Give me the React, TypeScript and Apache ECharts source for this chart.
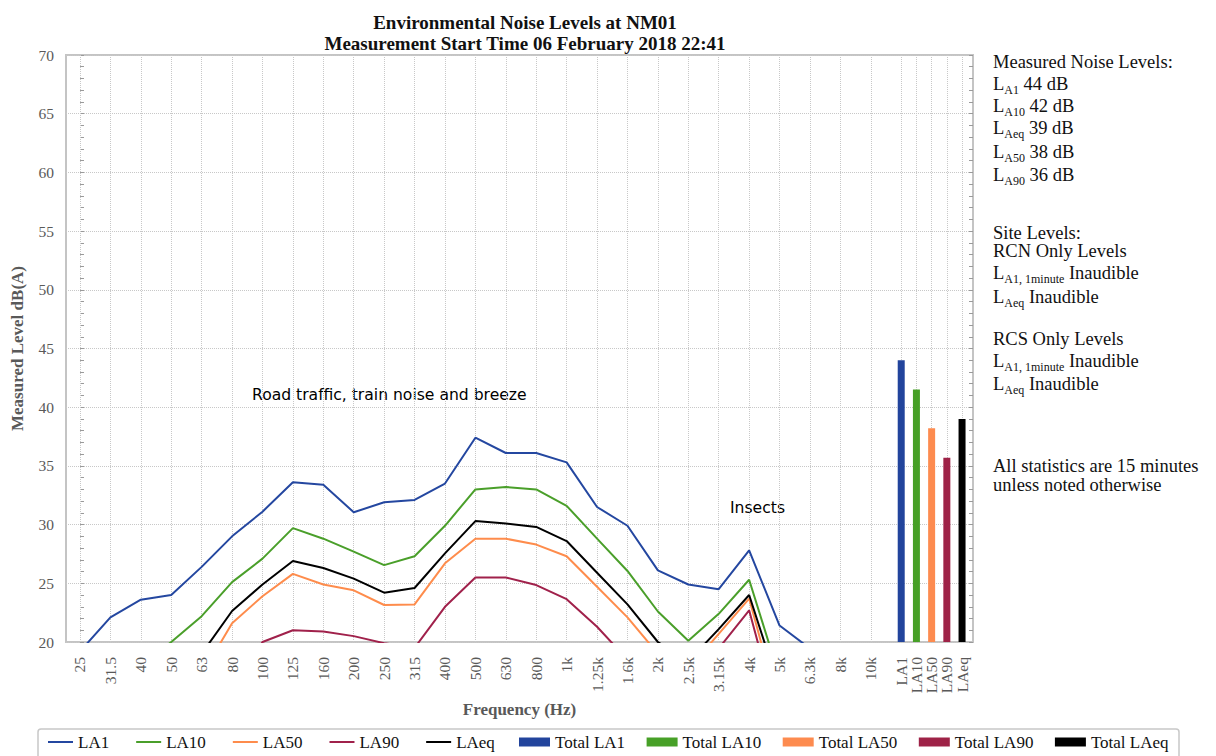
import { useEffect, useRef } from 'react';
import * as echarts from 'echarts';

// ---------- data ----------
const frequencyLabels = ['25', '31.5', '40', '50', '63', '80', '100', '125', '160', '200', '250', '315', '400', '500', '630', '800', '1k', '1.25k', '1.6k', '2k', '2.5k', '3.15k', '4k', '5k', '6.3k', '8k', '10k'];
const totalLabels = ['LA1', 'LA10', 'LA50', 'LA90', 'LAeq'];

const la1Values = [19.2, 22.1, 23.6, 24.0, 26.4, 29.0, 31.1, 33.6, 33.4, 31.05, 31.9, 32.1, 33.5, 37.4, 36.1, 36.1, 35.3, 31.5, 29.9, 26.1, 24.9, 24.5, 27.8, 21.4, 19.45, 17, 16];
const la10Values = [15, 16, 18, 20.0, 22.2, 25.1, 27.1, 29.7, 28.8, 27.7, 26.55, 27.3, 29.9, 33.0, 33.2, 33.0, 31.6, 28.8, 26.05, 22.6, 20.1, 22.4, 25.3, 17.0, 15, 14, 13];
const la50Values = [13, 14, 15, 16, 17.2, 21.6, 23.9, 25.8, 24.9, 24.4, 23.15, 23.2, 26.7, 28.8, 28.8, 28.3, 27.3, 24.7, 22.1, 19.0, 17.7, 20.7, 23.7, 14.2, 12, 11, 10];
const la90Values = [10, 11, 12, 13, 14, 16, 20.0, 21.0, 20.9, 20.5, 19.9, 19.5, 23.0, 25.5, 25.5, 24.85, 23.65, 21.3, 18.5, 16, 16, 19.45, 22.7, 13.1, 10, 9, 8];
const laeqValues = [12, 13, 14, 16, 19.0, 22.64, 24.9, 26.9, 26.3, 25.4, 24.2, 24.6, 27.55, 30.3, 30.1, 29.8, 28.6, 25.9, 23.2, 20.0, 18.35, 21.1, 24.0, 16.0, 13, 12, 11];
const totalValues = [44.0, 41.5, 38.2, 35.7, 39.0];

const lineNames = ['LA1', 'LA10', 'LA50', 'LA90', 'LAeq'];
const lineSeriesValues = [la1Values, la10Values, la50Values, la90Values, laeqValues];
const lineColors = ['#2447a0', '#4a9f2a', '#fe8c4c', '#a0214b', '#000000'];
const barNames = ['Total LA1', 'Total LA10', 'Total LA50', 'Total LA90', 'Total LAeq'];
const barColors = ['#22449c', '#47a027', '#fd8b4f', '#9e2247', '#000000'];

const titleLines = ['Environmental Noise Levels at NM01', 'Measurement Start Time 06 February 2018 22:41'];
const panelLines = [
  '{n|Measured Noise Levels:}',
  '{n|L}{s|A1}{n| 44 dB}',
  '{n|L}{s|A10}{n| 42 dB}',
  '{n|L}{s|Aeq}{n| 39 dB}',
  '{n|L}{s|A50}{n| 38 dB}',
  '{n|L}{s|A90}{n| 36 dB}',
  '{n|Site Levels:}',
  '{n|RCN Only Levels}',
  '{n|L}{s|A1, 1minute}{n| Inaudible}',
  '{n|L}{s|Aeq}{n| Inaudible}',
  '{n|RCS Only Levels}',
  '{n|L}{s|A1, 1minute}{n| Inaudible}',
  '{n|L}{s|Aeq}{n| Inaudible}',
  '{n|All statistics are 15 minutes}',
  '{n|unless noted otherwise}',
];
const annotations = ['Road traffic, train noise and breeze', 'Insects'];

// ---------- layout ----------
const SERIF = 'Liberation Serif';
const SANS = 'DejaVu Sans';
const panelY = [62, 84, 106, 128, 152, 175, 233, 251, 273, 297, 339, 361, 384, 466, 485];
const GRID_COLOR = '#c8c8c8';
const X_MIN = -0.46;
const X_MAX = 29.36;

export default function App() {
  const ref = useRef<HTMLDivElement>(null);

  useEffect(() => {
    if (!ref.current) return;
    const chart = echarts.init(ref.current, undefined, { renderer: 'svg' });

    const freqPos = frequencyLabels.map((_, i) => i);
    const totalPos = totalLabels.map((_, k) => frequencyLabels.length + 0.5 * k);
    const tickValues = [...freqPos, ...totalPos];
    const tickLabels = [...frequencyLabels, ...totalLabels];
    // trailing blank label so that the overlap check at the axis end only drops the blank one
    const labelValues = [...tickValues, X_MAX - 0.02];
    const labelFor = (v: number) => {
      const idx = tickValues.findIndex((t) => Math.abs(t - v) < 1e-6);
      return idx >= 0 ? tickLabels[idx] : '';
    };

    const gridSeries = {
      name: '__grid',
      type: 'line',
      xAxisIndex: 0,
      yAxisIndex: 0,
      data: [],
      symbol: 'none',
      z: 1,
      silent: true,
      markLine: {
        silent: true,
        z: 1,
        symbol: ['none', 'none'],
        label: { show: false },
        emphasis: { disabled: true },
        lineStyle: { type: 'dotted', color: GRID_COLOR, width: 1 },
        data: tickValues.map((v) => ({ xAxis: v })),
      },
    };

    const lineSeries = lineNames.map((name, s) => ({
      name,
      type: 'line',
      xAxisIndex: 0,
      yAxisIndex: 0,
      symbol: 'none',
      clip: true,
      data: lineSeriesValues[s].map((v, i) => [freqPos[i], v]),
      lineStyle: { width: 2, color: lineColors[s] },
      itemStyle: { color: lineColors[s] },
      z: 3,
    }));

    const barSeries = barNames.map((name, k) => ({
      name,
      type: 'bar',
      xAxisIndex: 0,
      yAxisIndex: 0,
      barWidth: 7,
      barGap: '-100%',
      clip: true,
      data: [[totalPos[k], totalValues[k]]],
      itemStyle: { color: barColors[k] },
      z: 4,
    }));

    const rich = {
      n: { fontFamily: SERIF, fontSize: 18.5, fill: '#111' },
      s: { fontFamily: SERIF, fontSize: 12, fill: '#111', padding: [12, 0, 0, 0] },
    };

    const option: any = {
      animation: false,
      backgroundColor: '#ffffff',
      title: {
        text: titleLines.join('\n'),
        left: 520,
        textAlign: 'center',
        top: 7,
        textStyle: { fontFamily: SERIF, fontSize: 19, fontWeight: 'bold', lineHeight: 21, color: '#111' },
      },
      grid: {
        left: 66,
        right: 243,
        top: 55,
        bottom: 114,
        show: true,
        borderColor: '#c4c4c4',
        borderWidth: 2,
        backgroundColor: 'transparent',
      },
      legend: [
        {
          data: lineNames,
          left: 48,
          top: 733.5,
          padding: 0,
          itemWidth: 25,
          itemHeight: 2,
          itemGap: 27,
          icon: 'path://M0,0 L25,0 L25,2 L0,2 Z',
          textStyle: { fontFamily: SERIF, fontSize: 17, color: '#111' },
        },
        {
          data: barNames,
          left: 519,
          top: 733.5,
          padding: 0,
          itemWidth: 31,
          itemHeight: 9,
          itemGap: 21.5,
          icon: 'rect',
          textStyle: { fontFamily: SERIF, fontSize: 17, color: '#111' },
        },
      ],
      xAxis: {
        type: 'value',
        min: X_MIN,
        max: X_MAX,
        name: 'Frequency (Hz)',
        nameLocation: 'middle',
        nameGap: 58,
        nameTextStyle: { fontFamily: SERIF, fontSize: 17, fontWeight: 'bold', color: '#595959' },
        axisLine: { show: false },
        axisTick: { show: false, customValues: labelValues },
        axisLabel: {
          customValues: labelValues,
          rotate: 90,
          margin: 15,
          showMinLabel: true,
          showMaxLabel: false,
          hideOverlap: false,
          fontFamily: SERIF,
          fontSize: 15.5,
          color: '#595959',
          formatter: (v: number) => labelFor(v),
        },
        splitLine: { show: false },
      },
      yAxis: [
        {
          type: 'value',
          min: 20,
          max: 70,
          interval: 5,
          name: 'Measured Level dB(A)',
          nameLocation: 'middle',
          nameGap: 40,
          nameTextStyle: { fontFamily: SERIF, fontSize: 17, fontWeight: 'bold', color: '#595959' },
          axisLine: { show: false },
          axisTick: { show: true, inside: true, length: 4, lineStyle: { color: '#9a9a9a' } },
          minorTick: { show: true, splitNumber: 5, length: 4, lineStyle: { color: '#9a9a9a' } },
          axisLabel: { margin: 12, fontFamily: SERIF, fontSize: 15.5, color: '#595959' },
          splitLine: { show: true, lineStyle: { type: 'dotted', color: GRID_COLOR, width: 1 } },
        },
        {
          type: 'value',
          position: 'right',
          min: 20,
          max: 70,
          interval: 5,
          axisLine: { show: false },
          axisLabel: { show: false },
          axisTick: { show: true, inside: true, length: 4, lineStyle: { color: '#9a9a9a' } },
          minorTick: { show: true, splitNumber: 5, length: 4, lineStyle: { color: '#9a9a9a' } },
          splitLine: { show: false },
        },
      ],
      graphic: [
        {
          type: 'text',
          x: 252,
          y: 395,
          style: { text: annotations[0], font: `15.6px "${SANS}"`, fill: '#000', verticalAlign: 'middle', align: 'left' },
        },
        {
          type: 'text',
          x: 730,
          y: 508,
          style: { text: annotations[1], font: `15.6px "${SANS}"`, fill: '#000', verticalAlign: 'middle', align: 'left' },
        },
        ...panelLines.map((t, i) => ({
          type: 'text',
          x: 993,
          y: panelY[i],
          style: { text: t, rich, verticalAlign: 'middle', align: 'left', fontFamily: SERIF, fontSize: 18.5, fill: '#111' },
        })),
        {
          type: 'rect',
          shape: { x: 38, y: 729, width: 1141, height: 40, r: 3 },
          style: { fill: 'none', stroke: '#c8c8c8', lineWidth: 1.5 },
          silent: true,
        },
      ],
      series: [gridSeries, ...lineSeries, ...barSeries],
    };

    chart.setOption(option);
    return () => chart.dispose();
  }, []);

  return <div ref={ref} style={{ position: 'fixed', left: 0, top: 0, width: 1216, height: 756 }} />;
}
